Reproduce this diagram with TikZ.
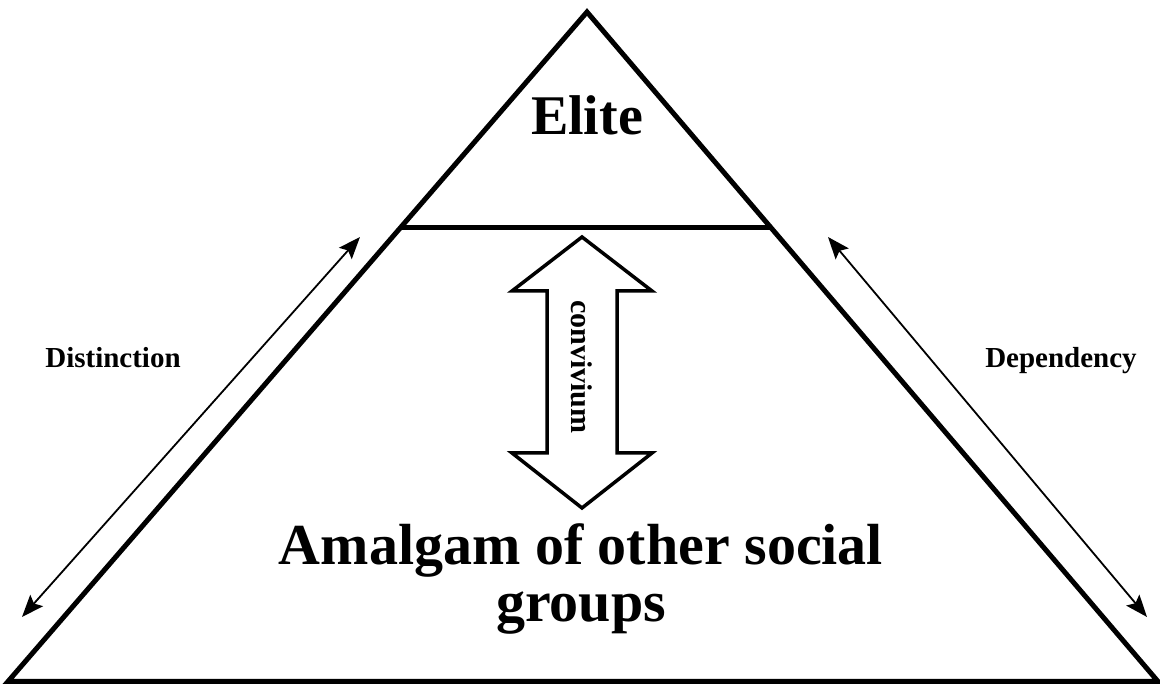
\documentclass[tikz,border=0pt]{standalone}
\usepackage{fontspec}
\setmainfont{Liberation Serif}
\usepackage{tikz}
\usetikzlibrary{arrows.meta,positioning}
\usepackage{tkz-euclide}

\tikzset{
  sidelabel/.style={font=\fontsize{29}{30}\selectfont\bfseries},
  biglabel/.style={font=\fontsize{58}{57}\selectfont\bfseries,anchor=base},
  dualtip/.style={line width=1.8pt,{Stealth[length=22pt,width=17pt,inset=4pt]}-{Stealth[length=22pt,width=17pt,inset=4pt]}}
}

\begin{document}
\begin{tikzpicture}[x=1pt,y=1pt]
\useasboundingbox (0,0) rectangle (1160,684);
\tkzDefPoint(587,672){apex}
\tkzDefPoint(8,2.5){bl}
\tkzDefPoint(1158,2.5){br}
\tkzDefPoint(400,456){divl}
\tkzDefPoint(771,456){divr}

\tkzDefPoint(360,447){dtop}
\tkzDefPoint(22,67){dbot}
\tkzDefPoint(828,447){ptop}
\tkzDefPoint(1147,67){pbot}

\draw[line width=5pt,line join=miter] (apex) -- (bl) -- (br) -- cycle;
\draw[line width=5pt] (divl) -- (divr);
\draw[dualtip] (dtop) -- (dbot);
\draw[dualtip] (ptop) -- (pbot);

% convivium arrow
\draw[line width=3.5pt,line join=miter]
  (582,447) -- (652,393) -- (617,393) -- (617,231) -- (652,231) -- (582,176)
  -- (512,231) -- (547,231) -- (547,393) -- (512,393) -- cycle;
\node[sidelabel,rotate=-90,font=\fontsize{30}{30}\selectfont\bfseries] (conv) at (582,317) {convivium};

\node[biglabel,font=\fontsize{56}{52}\selectfont\bfseries] (elite) at (587,549) {Elite};
\node[biglabel] (amalgam) at (581,119) {Amalgam of other social};
\node[biglabel] (groups) at (581,62) {groups};

\node[sidelabel,anchor=base] (dist) at (113,316) {Distinction};
\node[sidelabel,anchor=base] (dep) at (1061,316) {Dependency};

\end{tikzpicture}
\end{document}
